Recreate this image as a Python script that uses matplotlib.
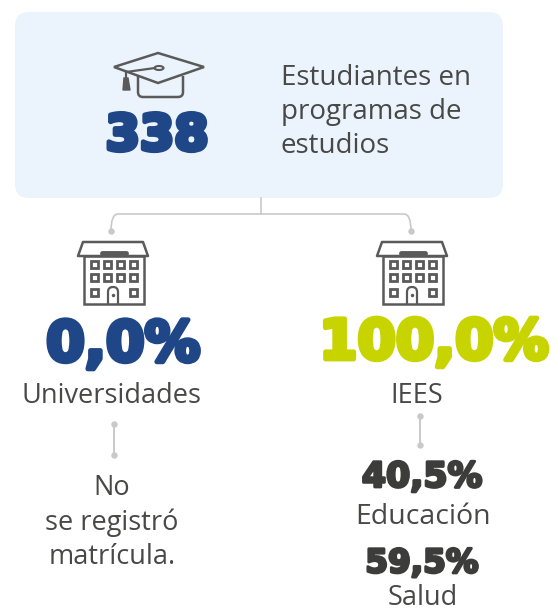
import matplotlib
matplotlib.use("Agg")
import matplotlib.pyplot as plt
import matplotlib.patheffects as pe
from matplotlib.patches import FancyBboxPatch, Ellipse, Polygon, PathPatch, Rectangle
from matplotlib.path import Path

# Data
total = "338"
total_label = ["Estudiantes en", "programas de", "estudios"]
groups = ["Universidades", "IEES"]
group_shares = ["0,0%", "100,0%"]
no_data_lines = ["No", "se registró", "matrícula."]
sub_names = ["Educación", "Salud"]
sub_shares = ["40,5%", "59,5%"]

BLUE = "#1f4788"
GREEN = "#c8d400"
DARK = "#3c3c3b"
ICON = "#5a5a5a"
GREY = "#c9c9c9"
BOX = "#ebf4fc"
plt.rcParams["font.family"] = ["Open Sans", "DejaVu Sans"]

fig = plt.figure(figsize=(5.57, 6.12), dpi=100)
ax = fig.add_axes([0, 0, 1, 1])
ax.set_xlim(0, 557)
ax.set_ylim(612, 0)
ax.axis("off")


def heavy(x, y, s, size, color, stroke=2.2):
    t = ax.text(x, y, s, fontsize=size, color=color, ha="center", va="center",
                fontweight="bold", family="DejaVu Sans")
    t.set_path_effects([pe.withStroke(linewidth=stroke, foreground=color)])


def light(x, y, s, size=19.5, ha="center"):
    ax.text(x, y, s, fontsize=size, color="#484847", ha=ha, va="center", fontweight="normal")


def building(dx):
    roof = [(83 + dx, 242), (143 + dx, 242), (148 + dx, 256), (78 + dx, 256)]
    ax.add_patch(Polygon(roof, closed=True, fc="none", ec=ICON, lw=1.8, joinstyle="round"))
    ax.add_patch(Rectangle((84 + dx, 256), 60, 48, fc="none", ec=ICON, lw=1.8))
    ax.plot([102 + dx, 126 + dx], [253, 253], color=ICON, lw=3.5, solid_capstyle="round")
    for wy in [264, 277, 292]:
        for wx in [94, 107, 120, 133]:
            if wy == 292 and wx in [107, 120]:
                continue
            ax.add_patch(Rectangle((wx - 3.5 + dx, wy - 3.5), 7, 7, fc="none", ec=ICON, lw=2))
    door = Path([(108 + dx, 304), (108 + dx, 292), (108 + dx, 287), (113 + dx, 287),
                 (118 + dx, 287), (118 + dx, 292), (118 + dx, 304)],
                [Path.MOVETO, Path.LINETO, Path.CURVE3, Path.CURVE3, Path.CURVE3, Path.CURVE3, Path.LINETO])
    ax.add_patch(PathPatch(door, fc="none", ec=ICON, lw=1.6))
    ax.plot([113 + dx], [295], "o", color=ICON, ms=1.5)


def link(x, y0, y1):
    ax.plot([x, x], [y0, y1], color=GREY, lw=1.4)
    ax.plot([x, x], [y0, y1], "o", color=GREY, ms=3.6)


# Caja superior
ax.add_patch(FancyBboxPatch((15, 12), 488, 186, boxstyle="round,pad=0,rounding_size=14", fc=BOX, ec="none"))

# Birrete
ax.add_patch(Polygon([(158, 53), (204, 67), (158, 83), (114, 67)], closed=True, fc="none", ec=ICON, lw=1.8))
base = Path([(138, 76), (138, 92), (138, 97), (143, 97), (178, 97), (183, 97), (183, 92), (183, 76)],
            [Path.MOVETO, Path.LINETO, Path.CURVE3, Path.CURVE3, Path.LINETO, Path.CURVE3, Path.CURVE3, Path.LINETO])
ax.add_patch(PathPatch(base, fc="none", ec=ICON, lw=1.8))
ax.plot([126, 155], [72, 68], color=ICON, lw=1.6)
ax.plot([126, 126], [72, 78], color=ICON, lw=1.6)
ax.add_patch(Polygon([(124, 78), (128, 78), (130, 90), (123, 90)], closed=True, fc=ICON, ec=ICON, lw=1))
ax.add_patch(Ellipse((159, 68), 9, 4, fc=BOX, ec=ICON, lw=1.5))

heavy(157, 136, total, 35.5, BLUE, 3.5)
for yy, line in zip([78, 112, 146], total_label):
    light(281, yy, line, 20, ha="left")

# Conectores
conn = Path([(111, 231), (111, 214), (118, 214), (404, 214), (411, 214), (411, 231)],
            [Path.MOVETO, Path.CURVE3, Path.CURVE3, Path.LINETO, Path.CURVE3, Path.CURVE3])
ax.add_patch(PathPatch(conn, fc="none", ec=GREY, lw=1.2))
ax.plot([261, 261], [198, 214], color=GREY, lw=1.2)
ax.plot([111, 411], [231, 231], "o", color=GREY, ms=3.6, ls="none")

building(0)
building(299)

heavy(123, 346, group_shares[0], 40, BLUE, 3.5)
heavy(434, 344, group_shares[1], 39.7, GREEN, 3.5)
light(112, 396, groups[0])
light(417, 396, groups[1])

link(114, 424, 455)
link(420, 416, 445)

for yy, line in zip([488, 523, 557], no_data_lines):
    light(112, yy, line)

heavy(422, 477, sub_shares[0], 25, DARK, 2)
light(423, 517, sub_names[0], 20.5)
heavy(422, 563, sub_shares[1], 23.5, DARK, 2)
light(423, 598, sub_names[1])

fig.savefig("out.png", dpi=100)
